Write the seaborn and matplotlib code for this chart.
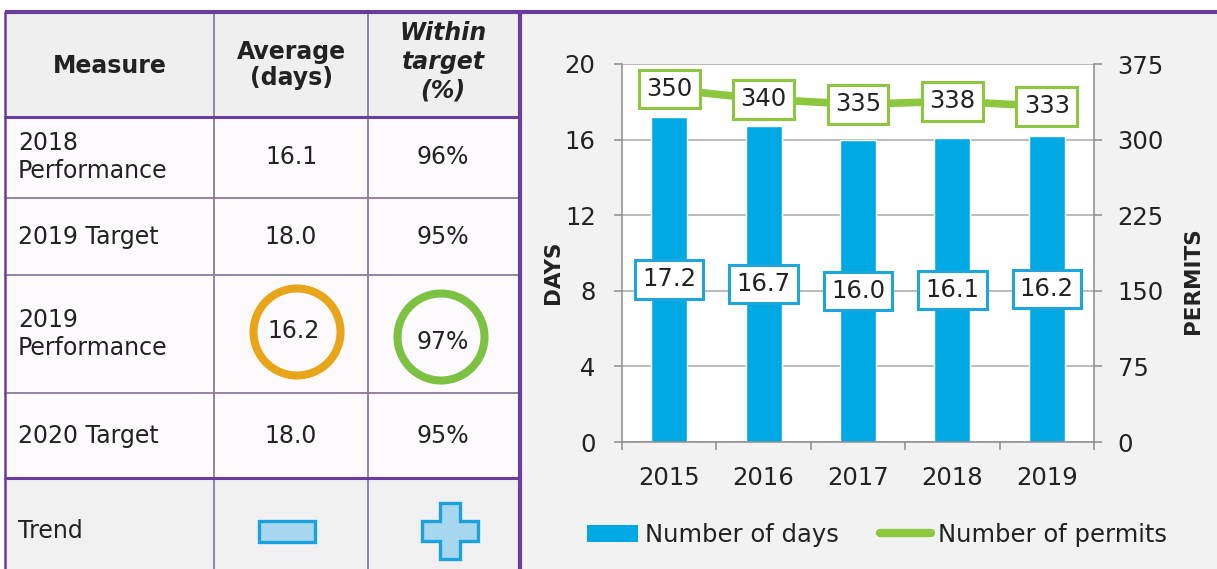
import seaborn as sns
import matplotlib.pyplot as plt
import numpy as np
from matplotlib.patches import Rectangle, Circle, Polygon, Patch
from matplotlib.lines import Line2D

# chart data
years = ["2015", "2016", "2017", "2018", "2019"]
days = [17.2, 16.7, 16.0, 16.1, 16.2]
permits = [350, 340, 335, 338, 333]

# table data
measures = ["2018\nPerformance", "2019 Target", "2019\nPerformance", "2020 Target", "Trend"]
avg_days = ["16.1", "18.0", "16.2", "18.0", ""]
within_target = ["96%", "95%", "97%", "95%", ""]

BLUE = "#00a9e4"
GREEN = "#8dc63f"
PURPLE = "#6a3d9a"
THIN = "#8b7a9c"
ORANGE = "#e8a51a"
RING_GREEN = "#7cc142"
TXT = "#222222"

sns.set_style("white")
plt.rcParams["font.family"] = ["DejaVu Sans"]

fig = plt.figure(figsize=(12.17, 5.69), dpi=100)

# background axes in pixel units for the table and panel frames
bg = fig.add_axes([0, 0, 1, 1], zorder=0)
bg.set_xlim(0, 1217)
bg.set_ylim(569, 0)
bg.axis("off")

col_x = [5, 214, 368, 520]
row_y = [12, 117, 198, 275, 393, 478, 569]

# chart panel background
bg.add_patch(Rectangle((520, 12), 697, 557, facecolor="#f2f2f2", edgecolor="none"))

# table cell backgrounds
bg.add_patch(Rectangle((col_x[0], row_y[0]), col_x[-1] - col_x[0], row_y[1] - row_y[0],
                       facecolor="#efefef", edgecolor="none"))
bg.add_patch(Rectangle((col_x[0], row_y[1]), col_x[-1] - col_x[0], row_y[5] - row_y[1],
                       facecolor="#fdfafd", edgecolor="none"))
bg.add_patch(Rectangle((col_x[0], row_y[5]), col_x[-1] - col_x[0], row_y[6] - row_y[5],
                       facecolor="#f0f0f0", edgecolor="none"))

# thin inner lines
for y in row_y[2:5]:
    bg.plot([col_x[0], col_x[-1]], [y, y], color=THIN, lw=1.3)
for x in col_x[1:3]:
    bg.plot([x, x], [row_y[0], row_y[-1]], color=THIN, lw=1.3)

# thick purple lines
bg.plot([col_x[0], 1217], [12, 12], color=PURPLE, lw=3.0, solid_capstyle="butt")
bg.plot([col_x[0], col_x[-1]], [row_y[1], row_y[1]], color=PURPLE, lw=2.2)
bg.plot([col_x[0], col_x[-1]], [row_y[5], row_y[5]], color=PURPLE, lw=2.2)
bg.plot([col_x[-1], col_x[-1]], [12, 569], color=PURPLE, lw=3.0)
bg.plot([col_x[0], col_x[0]], [12, 569], color=PURPLE, lw=1.8)

# header
fs = 17
bg.text(110, 66, "Measure", ha="center", va="center", fontsize=fs, fontweight="bold", color=TXT)
bg.text(291, 65, "Average\n(days)", ha="center", va="center", fontsize=fs, fontweight="bold",
        color=TXT, linespacing=1.1)
bg.text(443, 62, "Within\ntarget\n(%)", ha="center", va="center", fontsize=fs, fontweight="bold",
        fontstyle="italic", color=TXT, linespacing=1.25)

# rows
row_mid = [157, 237, 334, 436, 531]
for lab, d, w, y in zip(measures, avg_days, within_target, row_mid):
    bg.text(18, y, lab, ha="left", va="center", fontsize=fs, color=TXT, linespacing=1.25)
    if lab == "2019\nPerformance":
        bg.add_patch(Circle((297, 332), 43.5, facecolor="none", edgecolor=ORANGE, lw=5.8))
        bg.add_patch(Circle((441, 337), 43.5, facecolor="none", edgecolor=RING_GREEN, lw=5.8))
        bg.text(294, 331, d, ha="center", va="center", fontsize=fs, color=TXT)
        bg.text(443, 342, w, ha="center", va="center", fontsize=fs, color=TXT)
    else:
        bg.text(291, y, d, ha="center", va="center", fontsize=fs, color=TXT)
        bg.text(443, y, w, ha="center", va="center", fontsize=fs, color=TXT)

# trend icons
bg.add_patch(Rectangle((259, 521), 56, 21, facecolor="#a7d7ee", edgecolor="#1ba2dc", lw=2.4))
cx, cy, h, a = 450, 531, 28, 10
plus = [(cx - a, cy - h), (cx + a, cy - h), (cx + a, cy - a), (cx + h, cy - a), (cx + h, cy + a),
        (cx + a, cy + a), (cx + a, cy + h), (cx - a, cy + h), (cx - a, cy + a), (cx - h, cy + a),
        (cx - h, cy - a), (cx - a, cy - a)]
bg.add_patch(Polygon(plus, closed=True, facecolor="#a7d7ee", edgecolor="#1ba2dc", lw=2.4))

# chart
cfs = 17.5
ax = fig.add_axes([622 / 1217, 1 - 442 / 569, 472 / 1217, 378 / 569], zorder=1)
ax.set_facecolor("white")
sns.barplot(x=years, y=days, color=BLUE, saturation=1, width=0.38, ax=ax, zorder=2)
ax.set_ylim(0, 20)
ax.set_yticks(np.arange(0, 21, 4))
ax.set_axisbelow(True)
ax.yaxis.grid(True, color="#a8a8a8", lw=1.1)
ax.set_xlabel("")
ax.set_ylabel("")

grid_col = "#8c8c8c"
for s in ["top", "right"]:
    ax.spines[s].set_visible(False)
for s in ["left", "bottom"]:
    ax.spines[s].set_color(grid_col)
    ax.spines[s].set_linewidth(1.1)
ax.tick_params(axis="y", which="major", direction="out", length=6, width=1.1, color=grid_col,
               pad=13, labelsize=cfs, labelcolor=TXT, left=True)
ax.tick_params(axis="x", which="major", length=0, pad=17, labelsize=cfs, labelcolor=TXT)
ax.set_xticks(np.arange(-0.5, len(years)), minor=True)
ax.tick_params(axis="x", which="minor", direction="out", length=6, width=1.1, color=grid_col,
               bottom=True)

for i, v in enumerate(days):
    ax.text(i, v / 2, f"{v:.1f}", ha="center", va="center", fontsize=cfs, color=TXT, zorder=4,
            bbox=dict(boxstyle="square,pad=0.3", facecolor="white", edgecolor="#1ea5dc", lw=2.2))

ax2 = ax.twinx()
sns.pointplot(x=years, y=permits, ax=ax2, color=GREEN, markers="", linewidth=5.5)
ax2.set_ylim(0, 375)
ax2.set_yticks(np.arange(0, 376, 75))
ax2.set_xlim(-0.5, len(years) - 0.5)
ax2.set_ylabel("")
for s in ["top", "left", "bottom"]:
    ax2.spines[s].set_visible(False)
ax2.spines["right"].set_color(grid_col)
ax2.spines["right"].set_linewidth(1.1)
ax2.tick_params(axis="y", direction="out", length=6, width=1.1, color=grid_col, pad=11,
                labelsize=cfs, labelcolor=TXT, right=True)

for i, v in enumerate(permits):
    ax2.text(i, v, str(v), ha="center", va="center", fontsize=cfs, color=TXT, zorder=4,
             bbox=dict(boxstyle="square,pad=0.3", facecolor="white", edgecolor=GREEN, lw=2.2))

fig.text(553 / 1217, 1 - 272 / 569, "DAYS", rotation=90, ha="center", va="center",
         fontsize=15.5, fontweight="bold", color=TXT)
fig.text(1193 / 1217, 1 - 281 / 569, "PERMITS", rotation=90, ha="center", va="center",
         fontsize=15.5, fontweight="bold", color=TXT)

handles = [Patch(facecolor=BLUE, edgecolor="none"), Line2D([0], [0], color=GREEN, lw=6)]
fig.legend(handles, ["Number of days", "Number of permits"], loc="center",
           bbox_to_anchor=(877 / 1217, 1 - 535 / 569), ncol=2, frameon=False, fontsize=cfs,
           handlelength=2.1, handletextpad=0.3, columnspacing=1.7, labelcolor=TXT)

fig.savefig("out.png", dpi=100)
